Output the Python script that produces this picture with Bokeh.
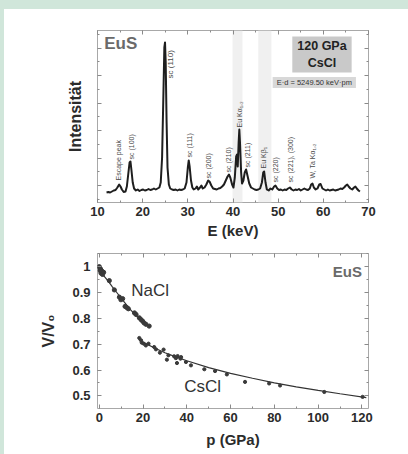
import numpy as np
from bokeh.plotting import figure
from bokeh.layouts import column
from bokeh.models import (Range1d, LinearAxis, BoxAnnotation, Label, ColumnDataSource,
                          FixedTicker, SingleIntervalTicker, CustomJSTickFormatter,
                          GlobalInlineStyleSheet)
from bokeh.embed import file_html
from bokeh.resources import INLINE

# ---------------- data: energy-dispersive spectrum (120 GPa, CsCl) ----------------
energy_keV = [12.0, 12.4, 12.8, 13.2, 13.6, 14.0, 14.4, 14.8, 15.1, 15.4, 15.8, 16.2, 16.5, 16.8,
              17.1, 17.3, 17.5, 17.8, 18.1, 18.5, 18.9, 19.3, 19.7, 20.1, 20.5, 20.9, 21.3, 21.7,
              22.1, 22.5, 22.9, 23.3, 23.7, 24.0, 24.3, 24.6, 24.8, 24.95, 25.1, 25.3, 25.5, 25.8,
              26.1, 26.5, 26.9, 27.3, 27.7, 28.1, 28.5, 28.9, 29.3, 29.7, 30.0, 30.2, 30.4, 30.7,
              31.0, 31.3, 31.7, 32.0, 32.3, 32.7, 33.0, 33.3, 33.7, 34.1, 34.5, 34.8, 35.2, 35.6,
              36.0, 36.4, 36.8, 37.2, 37.6, 38.0, 38.4, 38.8, 39.1, 39.4, 39.8, 40.1, 40.4, 40.7,
              40.9, 41.05, 41.25, 41.4, 41.55, 41.8, 42.0, 42.3, 42.6, 42.9, 43.2, 43.6, 44.0, 44.4,
              44.8, 45.2, 45.6, 46.0, 46.4, 46.7, 46.9, 47.2, 47.5, 47.9, 48.3, 48.7, 49.1, 49.4,
              49.8, 50.2, 50.6, 51.0, 51.4, 51.8, 52.2, 52.6, 53.0, 53.4, 53.8, 54.2, 54.6, 55.0,
              55.4, 55.8, 56.2, 56.6, 57.0, 57.3, 57.6, 57.9, 58.3, 58.7, 59.1, 59.4, 59.8, 60.2,
              60.6, 61.0, 61.4, 61.8, 62.2, 62.6, 63.0, 63.4, 63.8, 64.2, 64.6, 65.0, 65.3, 65.6,
              66.0, 66.4, 66.8, 67.1, 67.4, 67.8, 68.1]
intensity = [10, 10.5, 10, 11, 12, 12.5, 15, 18, 16, 13, 10.5, 11, 16, 28,
             40, 41, 33, 20, 14, 12, 13, 11.5, 12.5, 13, 12, 12.5, 13.5, 12.5,
             13, 14, 13, 14, 15, 20, 45, 110, 155, 160, 140, 80, 35, 18,
             14, 13, 12.5, 13, 12, 13, 12.5, 13, 14, 20, 35, 42, 36, 22,
             15, 13, 14, 16, 13, 15, 17, 14, 15, 18, 22, 21, 17, 14,
             13.5, 13, 14, 14.5, 16, 18, 22, 26, 28, 25, 18, 15, 25, 46,
             48, 36, 60, 73, 60, 30, 19, 22, 30, 33, 27, 19, 15, 14,
             13, 12.5, 13, 14, 20, 30, 31, 20, 13, 12, 14, 13, 16, 17,
             14, 12.5, 13, 12, 13, 12.5, 14, 15, 13, 12, 13, 12.5, 13.5, 12,
             13, 14, 13, 12.5, 14, 18, 19, 15, 13, 14, 18, 18.5, 14, 13,
             12, 13, 12, 12.5, 13, 12, 12.5, 13, 14, 13.5, 15, 17, 18, 16,
             14, 13, 15, 16, 14, 12, 11]

peak_labels = ["Escape peak", "sc (100)", "sc (110)", "sc (111)", "sc (200)", "sc (210)",
               "Eu K\u03b1\u2081,\u2082", "sc (211)", "Eu K\u03b2\u2081", "sc (220)",
               "sc (221), (300)", "W, Ta K\u03b1\u2081,\u2082"]
peak_label_E = [14.65, 17.5, 26.2, 30.4, 34.65, 38.9, 41.4, 43.1, 46.8, 49.4, 52.7, 57.5]
peak_label_I = [22, 43, 124, 45, 24, 30, 75, 35, 34, 20, 20, 24]
peak_label_size = ["7px", "7px", "8px", "7px", "7px", "7px", "7px", "7px", "7px", "7px", "7px", "7px"]

shaded_bands = [(39.9, 42.1), (45.6, 48.5)]

# ---------------- data: compression curve V/V0 vs p ----------------
nacl_p = [0.0, 0.3, 0.6, 1.0, 1.3, 0.8, 1.5, 0.4, 2.0, 4.6, 6.9, 9.2, 9.9, 10.7, 11.8, 12.7, 13.3,
          16.1, 16.8, 18.3, 19.1, 19.8, 20.5, 21.3, 22.8]
nacl_v = [1.0, 0.995, 0.99, 0.985, 0.98, 0.975, 0.97, 0.985, 0.978, 0.946, 0.910, 0.882, 0.872,
          0.876, 0.846, 0.841, 0.837, 0.821, 0.815, 0.802, 0.795, 0.789, 0.782, 0.777, 0.770]
nacl_fit_p = [0, 2, 4, 6, 8, 10, 12, 14, 16, 18, 20, 22]
nacl_fit_v = [0.99, 0.965, 0.945, 0.922, 0.900, 0.878, 0.857, 0.836, 0.818, 0.802, 0.786, 0.772]

cscl_p = [18.3, 19.1, 19.4, 20.3, 21.3, 22.5, 25.1, 25.9, 27.7, 29.4, 30.9, 31.6, 34.2, 35.0,
          35.5, 35.8, 37.1, 37.4, 39.6, 41.9, 48.0, 52.9, 58.3, 66.6, 77.6, 82.6, 102.8, 120.3]
cscl_v = [0.724, 0.715, 0.706, 0.702, 0.695, 0.702, 0.689, 0.680, 0.667, 0.679, 0.640, 0.657,
          0.653, 0.646, 0.627, 0.654, 0.644, 0.650, 0.631, 0.618, 0.603, 0.596, 0.583, 0.554,
          0.548, 0.540, 0.515, 0.496]
cscl_fit_p = [18, 20, 25, 30, 35, 40, 50, 60, 70, 80, 90, 100, 110, 122]
cscl_fit_v = [0.718, 0.708, 0.686, 0.667, 0.651, 0.636, 0.609, 0.587, 0.568, 0.550, 0.535,
              0.521, 0.508, 0.493]

FONT = "Liberation Sans"
TXT = "#2b2b2b"
FRAME = "#a8a8a8"


def style_axis(ax, label_size="13px"):
    ax.axis_line_color = None
    ax.major_tick_in = 4
    ax.major_tick_out = 0
    ax.minor_tick_in = 2
    ax.minor_tick_out = 0
    ax.major_tick_line_color = "#8a8a8a"
    ax.minor_tick_line_color = "#8a8a8a"
    ax.major_label_text_font = FONT
    ax.major_label_text_font_style = "bold"
    ax.major_label_text_font_size = label_size
    ax.major_label_text_color = TXT
    ax.axis_label_text_font = FONT
    ax.axis_label_text_font_style = "bold"
    ax.axis_label_text_color = TXT


def mirror_axis(p, ticker, side):
    ax = LinearAxis(ticker=ticker)
    style_axis(ax)
    ax.major_label_text_font_size = "0px"
    ax.major_label_standoff = 0
    ax.formatter = CustomJSTickFormatter(code="return ''")
    p.add_layout(ax, side)


# ---------------- top figure: spectrum ----------------
p1 = figure(width=404, height=234, output_backend="svg", toolbar_location=None,
            x_range=Range1d(10, 70), y_range=Range1d(0, 172),
            min_border_left=93, min_border_right=40, min_border_top=21, min_border_bottom=41)
p1.grid.visible = False
p1.outline_line_color = FRAME
p1.background_fill_color = "white"
p1.border_fill_color = "white"

xt1 = SingleIntervalTicker(interval=10, num_minor_ticks=2)
yt1 = FixedTicker(ticks=[17, 44.5, 72, 99.5, 127, 154.5],
                  minor_ticks=[30.75, 58.25, 85.75, 113.25, 140.75, 168.25, 3.25])
p1.xaxis.ticker = xt1
p1.yaxis.ticker = yt1
style_axis(p1.xaxis[0])
style_axis(p1.yaxis[0])
p1.xaxis.major_label_standoff = 4
p1.xaxis.axis_label = "E (keV)"
p1.xaxis.axis_label_text_font_size = "15px"
p1.xaxis.axis_label_standoff = 3
p1.yaxis.formatter = CustomJSTickFormatter(code="return ''")
p1.yaxis.axis_label = "Intensit\u00e4t"
p1.yaxis.axis_label_text_font_size = "16px"
p1.yaxis.axis_label_standoff = 14
mirror_axis(p1, xt1, "above")
mirror_axis(p1, yt1, "right")

for lo, hi in shaded_bands:
    p1.add_layout(BoxAnnotation(left=lo, right=hi, fill_color="#f0f0f0", fill_alpha=1.0,
                                line_color=None, level="underlay"))

p1.line(energy_keV, intensity, line_width=2.0, line_color="#1e1e1e", line_join="round")

src = ColumnDataSource(dict(x=peak_label_E, y=peak_label_I, t=peak_labels, s=peak_label_size))
p1.text(x="x", y="y", text="t", source=src, angle=np.pi / 2, text_align="left",
        text_baseline="middle", text_font_size="s", text_color="#4a4a4a",
        text_font={"value": FONT})

p1.add_layout(Label(x=11.5, y=159, text="EuS", text_font=FONT, text_font_style="bold",
                    text_font_size="17px", text_color="#6a6a6a", text_align="left",
                    text_baseline="middle"))
p1.add_layout(Label(x=59.7, y=148, text="120 GPa\nCsCl", text_font=FONT, text_font_style="bold",
                    text_font_size="12.5px", text_color="#222222", text_align="center",
                    text_baseline="middle", background_fill_color="#c9c9c9",
                    padding=(5, 3), text_line_height=1.15))
p1.add_layout(Label(x=58.0, y=120, text="E\u00b7d = 5249.50 keV\u00b7pm", text_font=FONT,
                    text_font_size="7.5px", text_color="#333333", text_align="center",
                    text_baseline="middle", background_fill_color="#d8d8d8",
                    padding=(4, 1)))

# ---------------- bottom figure: equation of state ----------------
p2 = figure(width=404, height=211, output_backend="svg", toolbar_location=None,
            x_range=Range1d(-0.8, 123), y_range=Range1d(0.451, 1.051),
            min_border_left=93, min_border_right=40, min_border_top=10, min_border_bottom=46)
p2.grid.visible = False
p2.outline_line_color = FRAME
p2.background_fill_color = "white"
p2.border_fill_color = "white"

xt2 = SingleIntervalTicker(interval=20, num_minor_ticks=2)
yt2 = SingleIntervalTicker(interval=0.1, num_minor_ticks=2)
p2.xaxis.ticker = xt2
p2.yaxis.ticker = yt2
style_axis(p2.xaxis[0])
style_axis(p2.yaxis[0])
p2.xaxis.major_label_standoff = 4
p2.yaxis.major_label_standoff = 7
p2.xaxis.axis_label = "p (GPa)"
p2.xaxis.axis_label_text_font_size = "15px"
p2.xaxis.axis_label_standoff = 6
p2.yaxis.axis_label = "V/V\u2080"
p2.yaxis.axis_label_text_font_size = "16px"
p2.yaxis.axis_label_standoff = 12
mirror_axis(p2, xt2, "above")
mirror_axis(p2, yt2, "right")

p2.line(nacl_fit_p, nacl_fit_v, line_width=1.2, line_color="#333333")
p2.line(cscl_fit_p, cscl_fit_v, line_width=1.2, line_color="#333333")
p2.scatter(nacl_p, nacl_v, marker="circle", size=4.2, fill_color="#3a3a3a", line_color="#3a3a3a")
p2.scatter(cscl_p, cscl_v, marker="circle", size=3.2, fill_color="#3a3a3a", line_color="#3a3a3a")

p2.add_layout(Label(x=120, y=0.981, text="EuS", text_font=FONT, text_font_style="bold",
                    text_font_size="15px", text_color="#6a6a6a", text_align="right",
                    text_baseline="middle"))
p2.add_layout(Label(x=14.6, y=0.907, text="NaCl", text_font=FONT, text_font_size="17px",
                    text_color="#333333", text_align="left", text_baseline="middle"))
p2.add_layout(Label(x=38.8, y=0.537, text="CsCl", text_font=FONT, text_font_size="17px",
                    text_color="#333333", text_align="left", text_baseline="middle"))

css = GlobalInlineStyleSheet(css="""
html { background: #d0e6da; }
body { margin: 0 !important; position: absolute; left: 4px; top: 9px; right: 0; bottom: 0;
       background: #ffffff; overflow: hidden; }
""")
layout = column(p1, p2, spacing=0, stylesheets=[css])

open("out.html", "w").write(file_html(layout, INLINE))
